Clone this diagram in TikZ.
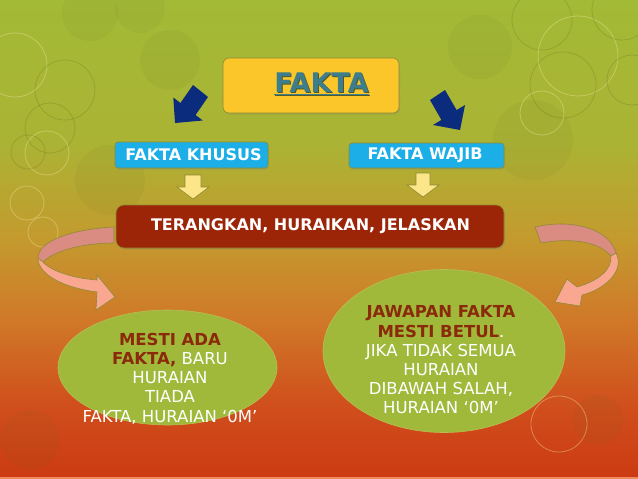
\documentclass[tikz,border=0pt]{standalone}
\usepackage{fontspec}
\setmainfont{DejaVu Sans}
\usetikzlibrary{shapes.geometric,shadows}
\definecolor{bgA}{HTML}{A2BA36}
\definecolor{bgB}{HTML}{ABB334}
\definecolor{bgC}{HTML}{C49A2E}
\definecolor{bgD}{HTML}{D07828}
\definecolor{bgE}{HTML}{D04E1C}
\definecolor{bgF}{HTML}{CC3A12}
\definecolor{bottomstrip}{HTML}{F08A5A}
\definecolor{goldfill}{HTML}{FBC62A}
\definecolor{olivebd}{HTML}{8E8A34}
\definecolor{tealtxt}{HTML}{3E7E8C}
\definecolor{tealshadow}{HTML}{4E5A2C}
\definecolor{cyanfill}{HTML}{1CAEE6}
\definecolor{redfill}{HTML}{9C2508}
\definecolor{paleyellow}{HTML}{FDE58A}
\definecolor{navy}{HTML}{0B2C7C}
\definecolor{pinkdark}{HTML}{DA8C83}
\definecolor{pinklight}{HTML}{F9A791}
\definecolor{greenfill}{HTML}{A0B93B}
\definecolor{greenbd}{HTML}{B8BE52}
\definecolor{darktxt}{HTML}{8A2A0A}
\definecolor{ringlight}{HTML}{F2E7A0}
\definecolor{ringdark}{HTML}{5E6A1E}
\pgfdeclareverticalshading{bgshade}{100bp}{color(0bp)=(bgF); color(25bp)=(bgF); color(32.5bp)=(bgE); color(41.5bp)=(bgD); color(50bp)=(bgC); color(60bp)=(bgB); color(75bp)=(bgA); color(100bp)=(bgA)}
\tikzset{
  ringL/.style={draw=ringlight, line width=0.8pt, opacity=0.4},
  ringD/.style={draw=ringdark, line width=0.8pt, opacity=0.25},
  blob/.style={fill=ringdark, opacity=0.07},
  boxshadow/.style={drop shadow={opacity=0.25, shadow xshift=1pt, shadow yshift=-1.5pt}},
  faktabox/.style={draw=olivebd, line width=0.6pt, fill=goldfill, rounded corners=6pt, boxshadow},
  bluebox/.style={draw=olivebd, line width=0.6pt, fill=cyanfill, rounded corners=3pt, boxshadow},
  redbox/.style={draw=olivebd, line width=0.6pt, fill=redfill, rounded corners=8pt, boxshadow},
  boxtext/.style={text=white, font=\fontsize{16}{19}\selectfont\bfseries},
  yarrow/.style={draw=olivebd, line width=0.6pt, fill=paleyellow},
  narrow/.style={fill=navy},
  ribbondark/.style={draw=olivebd, line width=0.6pt, fill=pinkdark},
  ribbonlight/.style={draw=olivebd, line width=0.6pt, fill=pinklight},
  oval/.style={ellipse, draw=greenbd, line width=0.6pt, fill=greenfill, inner sep=0pt},
  ovaltext/.style={align=center, text=white, font=\fontsize{16.5}{19.2}\selectfont}
}
\begin{document}
\begin{tikzpicture}[x=1pt,y=-1pt]
\useasboundingbox (0,0) rectangle (638,479);
\shade[shading=bgshade] (0,0) rectangle (638,479);
\fill[bottomstrip] (0,477) rectangle (638,479);
% background decoration
\fill[blob] (90,13) circle[radius=28pt];
\fill[blob] (140,8) circle[radius=25pt];
\fill[blob] (480,47) circle[radius=32pt];
\fill[blob] (533,140) circle[radius=40pt];
\fill[blob] (170,60) circle[radius=30pt];
\fill[blob] (110,180) circle[radius=35pt];
\fill[blob] (598,420) circle[radius=25pt];
\fill[blob] (30,440) circle[radius=30pt];
\draw[ringL] (15,65) circle[radius=32pt];
\draw[ringD] (65,90) circle[radius=30pt];
\draw[ringD] (50,128) circle[radius=25pt];
\draw[ringD] (28,152) circle[radius=17pt];
\draw[ringL] (47,153) circle[radius=22pt];
\draw[ringL] (27,203) circle[radius=17pt];
\draw[ringL] (43,232) circle[radius=15pt];
\draw[ringD] (542,20) circle[radius=30pt];
\draw[ringL] (578,56) circle[radius=40pt];
\draw[ringD] (563,85) circle[radius=33pt];
\draw[ringL] (542,113) circle[radius=22pt];
\draw[ringD] (632,80) circle[radius=25pt];
\draw[ringD] (622,10) circle[radius=30pt];
\draw[ringL] (559,424) circle[radius=28pt];
% FAKTA
\node[faktabox, minimum width=176pt, minimum height=55pt] (fakta) at (311,85.5) {};
\node[text=tealshadow, font=\fontsize{27}{30}\selectfont\bfseries] (faktashadow) at (322.5,84.5) {\underline{FAKTA}};
\node[text=tealtxt, font=\fontsize{27}{30}\selectfont\bfseries] (faktatxt) at (321.5,83.5) {\underline{FAKTA}};
% navy arrows
\fill[narrow] (193,85) -- (208,97) -- (195.6,115) -- (202.7,120.5) -- (175,123) -- (173.3,97.5) -- (180.4,103) -- cycle;
\fill[narrow] (430,100) -- (445,90) -- (456.6,110.1) -- (465,105) -- (460,130) -- (433,125) -- (441.4,119.9) -- cycle;
% blue boxes
\node[bluebox, minimum width=153pt, minimum height=26pt] (khusus) at (191.5,155) {};
\node[boxtext] (khusustxt) at (193.5,155) {FAKTA KHUSUS};
\node[bluebox, minimum width=155pt, minimum height=25pt] (wajib) at (426.5,155.5) {};
\node[boxtext] (wajibtxt) at (425,155.5) {FAKTA WAJIB};
% yellow arrows
\draw[yarrow] (185,175) -- (201,175) -- (201,187) -- (209,187) -- (193,199) -- (177,187) -- (185,187) -- cycle;
\draw[yarrow] (416,173) -- (430,173) -- (430,185) -- (439,185) -- (423,197) -- (407,185) -- (416,185) -- cycle;
% red box
\node[redbox, minimum width=388pt, minimum height=43pt] (terang) at (310,226.5) {};
\node[boxtext] (terangtxt) at (310.5,226.5) {TERANGKAN, HURAIKAN, JELASKAN};
% left curved arrow
\draw[ribbondark] (114,227) .. controls (75,229) and (38,240) .. (38,258) -- (43,262) .. controls (55,250) and (85,243) .. (114,243) -- cycle;
\draw[ribbonlight] (38,258) .. controls (38,275) and (65,288) .. (97,292) -- (96,310) -- (115,297) -- (97,275) -- (97,280) .. controls (70,278) and (50,270) .. (43,262) -- cycle;
% right curved arrow
\draw[ribbondark] (535,227) .. controls (575,218) and (610,230) .. (616,253) -- (611,256) .. controls (600,243) and (575,237) .. (541,243) -- cycle;
\draw[ribbonlight] (616,253) .. controls (625,270) and (606,289) .. (582,295) -- (580,306) -- (555,302) -- (567,279) -- (577,287) .. controls (598,281) and (612,270) .. (611,256) -- cycle;
% ellipses
\node[oval, minimum width=219pt, minimum height=115pt] (leftoval) at (167.5,367.5) {};
\node[ovaltext] (lefttxt) at (170,378.5) {\textbf{\color{darktxt}MESTI ADA}\\\textbf{\color{darktxt}FAKTA,} BARU\\HURAIAN\\TIADA\\FAKTA, HURAIAN ‘0M’};
\node[oval, minimum width=242pt, minimum height=163pt] (rightoval) at (444,351) {};
\node[ovaltext] (righttxt) at (441,360) {\textbf{\color{darktxt}JAWAPAN FAKTA}\\\textbf{\color{darktxt}MESTI BETUL}.\\JIKA TIDAK SEMUA\\HURAIAN\\DIBAWAH SALAH,\\HURAIAN ‘0M’};
\end{tikzpicture}
\end{document}
